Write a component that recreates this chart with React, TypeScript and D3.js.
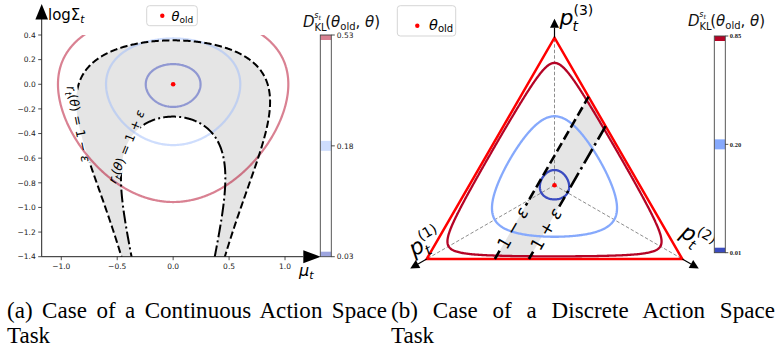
import React from 'react';
import * as d3 from 'd3';

// ---- data ----
const levelsA = [0.03, 0.18, 0.53];          // KL contour levels, panel (a)
const levelsB = [0.01, 0.2, 0.85];           // KL contour levels, panel (b)
const epsA = 0.3;                            // clip range, panel (a)
const epsB = 0.2;                            // clip range, panel (b)
const thetaOldA = [0, 0];                    // [mu, log sigma] of the old policy
const actionA = 0;                           // action at which r_t is evaluated
const thetaOldB = [1 / 3, 1 / 3, 1 / 3];     // old categorical policy
const ratioActionB = 1;                      // index of the action used for r_t (p^(2))
const muTicks = [-1.0, -0.5, 0.0, 0.5, 1.0];
const logSigmaTicks = [0.4, 0.2, 0.0, -0.2, -0.4, -0.6, -0.8, -1.0, -1.2, -1.4];
const colorsA = ['#3b4cc0', '#9ebbfc', '#b40426'];
const colorsB = ['#3b4cc0', '#86a9fc', '#b40426'];

const W = 777;
const H = 350;
const fmt = d3.format('.1f');
const fmt2 = d3.format('.2f');
const serif = "'Liberation Serif', 'Times New Roman', Times, serif";

// ---- panel (a) ----
const boxA = { left: 41.7, right: 304.6, top: 35, bottom: 256.7 };
const xA = d3.scaleLinear().domain([-1.175, 1.175]).range([boxA.left, boxA.right]);
const yA = d3.scaleLinear().domain([-1.4, 0.4]).range([boxA.bottom, boxA.top]);

const klGauss = (mu, s) => {
  const [mu0, s0] = thetaOldA;
  return (s0 - s) + (Math.exp(2 * s) + (mu - mu0) ** 2) / (2 * Math.exp(2 * s0)) - 0.5;
};
const logRatioA = (mu, s) => {
  const [mu0, s0] = thetaOldA;
  return (s0 - s) - (actionA - mu) ** 2 / (2 * Math.exp(2 * s)) + (actionA - mu0) ** 2 / (2 * Math.exp(2 * s0));
};

const nxA = 330;
const nyA = 300;
const gxA = d3.scaleLinear().domain([0.5, nxA - 0.5]).range([-1.4, 1.4]);
const gyA = d3.scaleLinear().domain([0.5, nyA - 0.5]).range([0.75, -1.75]);
const negKlA = new Float64Array(nxA * nyA);
const lrA = new Float64Array(nxA * nyA);
for (let j = 0; j < nyA; j++) {
  for (let i = 0; i < nxA; i++) {
    const mu = gxA(i + 0.5);
    const s = gyA(j + 0.5);
    negKlA[j * nxA + i] = -klGauss(mu, s);
    lrA[j * nxA + i] = logRatioA(mu, s);
  }
}
const pathA = d3.geoPath(d3.geoTransform({
  point: function (px, py) { this.stream.point(xA(gxA(px)), yA(gyA(py))); }
}));
const klContoursA = d3.contours().size([nxA, nyA]).thresholds(levelsA.map(l => -l))(negKlA);
const ratioContoursA = d3.contours().size([nxA, nyA])
  .thresholds([Math.log(1 - epsA), Math.log(1 + epsA)])(lrA);
const levelIndex = (levels, c) => d3.minIndex(levels, l => Math.abs(l + c.value));

// inline label anchors on the ratio curves (log sigma value, then mu solved on the left branch)
const labelAnchor = (s, c) => {
  const mu = -Math.sqrt(2 * Math.exp(2 * s) * (c - s));
  const d = 1e-3;
  const mu2 = -Math.sqrt(2 * Math.exp(2 * (s + d)) * (c - s - d));
  const ang = Math.atan2(yA(s + d) - yA(s), xA(mu2) - xA(mu)) * 180 / Math.PI;
  return { x: xA(mu), y: yA(s), ang };
};
const labA1 = labelAnchor(-0.322, -Math.log(1 - epsA));
labA1.ang += 180;
const labA2 = labelAnchor(-0.505, -Math.log(1 + epsA));

// ---- panel (b) ----
const sideB = 255.6;
const heightB = sideB * Math.sqrt(3) / 2;
const xB = d3.scaleLinear().domain([0, 1]).range([426.7, 426.7 + sideB]);
const yB = d3.scaleLinear().domain([0, 1]).range([259, 259 - heightB]);
const simplex = (p) => [xB(p[1] + p[2] / 2), yB(p[2])];
const vertsB = [[1, 0, 0], [0, 1, 0], [0, 0, 1]].map(simplex);
const centerB = simplex(thetaOldB);

const x0B = 416;
const x1B = 694;
const y0B = 26;
const y1B = 270;
const nxB = 300;
const nyB = 265;
const gxB = d3.scaleLinear().domain([0.5, nxB - 0.5]).range([x0B, x1B]);
const gyB = d3.scaleLinear().domain([0.5, nyB - 0.5]).range([y0B, y1B]);
const negKlB = new Float64Array(nxB * nyB);
for (let j = 0; j < nyB; j++) {
  for (let i = 0; i < nxB; i++) {
    const px = gxB(i + 0.5);
    const py = gyB(j + 0.5);
    const p3 = yB.invert(py);
    const p2 = xB.invert(px) - p3 / 2;
    const p = [1 - p2 - p3, p2, p3];
    let v = -20;
    if (p.every(q => q > 1e-9)) {
      v = -d3.sum(thetaOldB, (q, k) => q * Math.log(q / p[k]));
    }
    negKlB[j * nxB + i] = v;
  }
}
const pathB = d3.geoPath(d3.geoTransform({
  point: function (px, py) { this.stream.point(gxB(px), gyB(py)); }
}));
const klContoursB = d3.contours().size([nxB, nyB]).thresholds(levelsB.map(l => -l))(negKlB);

// r_t = p_k / p_old,k -> straight lines p_k = const
const ratioLine = (r) => {
  const pk = r * thetaOldB[ratioActionB];
  return [simplex([1 - pk, pk, 0]), simplex([0, pk, 1 - pk])];
};
const lineLo = ratioLine(1 - epsB);
const lineHi = ratioLine(1 + epsB);
const bandB = [lineLo[0], lineHi[0], lineHi[1], lineLo[1]];
const onLine = (r, p3) => {
  const pk = r * thetaOldB[ratioActionB];
  return simplex([1 - pk - p3, pk, p3]);
};
const labB1 = onLine(1 - epsB, 0.14);
const labB2 = onLine(1 + epsB, 0.135);

const arrowB = (v) => {
  const dx = v[0] - centerB[0];
  const dy = v[1] - centerB[1];
  const n = Math.hypot(dx, dy);
  const ux = dx / n;
  const uy = dy / n;
  const base = [v[0] + 10 * ux, v[1] + 10 * uy];
  const tip = [v[0] + 19 * ux, v[1] + 19 * uy];
  const l = [base[0] - 4.5 * uy, base[1] + 4.5 * ux];
  const r = [base[0] + 4.5 * uy, base[1] - 4.5 * ux];
  return { line: [v, base], head: [tip, l, r] };
};

const cbTitle = (x, y) => (
  <text x={x} y={y} fontSize={15} fill="#111">
    <tspan fontStyle="italic">D</tspan>
    <tspan fontSize={10} dy={4}>KL</tspan>
    <tspan fontSize={8} fontStyle="italic" dx={-12.5} dy={-13}>s</tspan>
    <tspan fontSize={6} fontStyle="italic" dy={2}>t</tspan>
    <tspan dx={4.5} dy={7}>(</tspan>
    <tspan fontStyle="italic">θ</tspan>
    <tspan fontSize={10} dy={3}>old</tspan>
    <tspan dy={-3}>, </tspan>
    <tspan fontStyle="italic">θ</tspan>
    <tspan>)</tspan>
  </text>
);

// p_t^(k) as one text element: sub and superscript stacked
const vertexLabel = (k, tr) => (
  <text transform={tr} x={0} y={0} fontSize={22} fill="#000">
    <tspan fontStyle="italic">p</tspan>
    <tspan fontStyle="italic" fontSize={14} dx={-1} dy={6}>t</tspan>
    <tspan fontSize={14} dx={-4.5} dy={-16}>({k})</tspan>
  </text>
);

export default function App() {
  const cbA = { x: 320.3, w: 11, top: 35, bottom: 256.7 };
  const cbB = { x: 714.3, w: 11, top: 36, bottom: 252.7 };
  const cbYA = d3.scaleLinear().domain([0, levelsA.length - 1]).range([cbA.bottom, cbA.top]);
  const cbYB = d3.scaleLinear().domain([0, levelsB.length - 1]).range([cbB.bottom, cbB.top]);
  const bandPathA = pathA(ratioContoursA[0]) + pathA(ratioContoursA[1]);

  return (
    <svg width={W} height={H} style={{ position: 'absolute', left: 0, top: 0, background: '#fff' }}
      fontFamily="DejaVu Sans">
      <defs>
        <clipPath id="clipA">
          <rect x={boxA.left} y={boxA.top} width={boxA.right - boxA.left} height={boxA.bottom - boxA.top} />
        </clipPath>
        <clipPath id="clipCbA"><rect x={cbA.x} y={cbA.top} width={cbA.w} height={cbA.bottom - cbA.top} /></clipPath>
        <clipPath id="clipCbB"><rect x={cbB.x} y={cbB.top} width={cbB.w} height={cbB.bottom - cbB.top} /></clipPath>
        <mask id="gapA" maskUnits="userSpaceOnUse" x={0} y={0} width={W} height={H}>
          <rect x={0} y={0} width={W} height={H} fill="#fff" />
          <rect x={-40} y={-6} width={80} height={12} fill="#000"
            transform={`translate(${labA1.x},${labA1.y}) rotate(${labA1.ang})`} />
          <rect x={-39} y={-6} width={78} height={12} fill="#000"
            transform={`translate(${labA2.x},${labA2.y}) rotate(${labA2.ang})`} />
        </mask>
        <mask id="gapB" maskUnits="userSpaceOnUse" x={0} y={0} width={W} height={H}>
          <rect x={0} y={0} width={W} height={H} fill="#fff" />
          <rect x={-26} y={-7} width={52} height={14} fill="#000"
            transform={`translate(${labB1[0]},${labB1[1]}) rotate(-60)`} />
          <rect x={-26} y={-7} width={52} height={14} fill="#000"
            transform={`translate(${labB2[0]},${labB2[1]}) rotate(-60)`} />
        </mask>
      </defs>

      {/* ===== panel (a) ===== */}
      <g clipPath="url(#clipA)">
        <path d={bandPathA} fill="#e5e5e5" fillRule="evenodd" stroke="none" />
        {klContoursA.map((c, i) => (
          <path key={`kla-${i}`} d={pathA(c)} fill="none" stroke={colorsA[levelIndex(levelsA, c)]}
            strokeOpacity={0.5} strokeWidth={2.2} />
        ))}
        <g mask="url(#gapA)" fill="none" stroke="#000" strokeWidth={2}>
          <path d={pathA(ratioContoursA[0])} strokeDasharray="7.4,3.2" />
          <path d={pathA(ratioContoursA[1])} strokeDasharray="12.8,3.2,2,3.2" />
        </g>
      </g>
      <text transform={`translate(${labA1.x},${labA1.y}) rotate(${labA1.ang})`} textAnchor="middle" y={4.5}
        fontSize={12.5} fill="#000">
        <tspan fontStyle="italic">r</tspan>
        <tspan fontStyle="italic" fontSize={9} dy={3}>t</tspan>
        <tspan dy={-3}>(</tspan><tspan fontStyle="italic">θ</tspan><tspan>) = 1 − </tspan>
        <tspan fontStyle="italic">ε</tspan>
      </text>
      <text transform={`translate(${labA2.x},${labA2.y}) rotate(${labA2.ang})`} textAnchor="middle" y={4.5}
        fontSize={12.5} fill="#000">
        <tspan fontStyle="italic">r</tspan>
        <tspan fontStyle="italic" fontSize={9} dy={3}>t</tspan>
        <tspan dy={-3}>(</tspan><tspan fontStyle="italic">θ</tspan><tspan>) = 1 + </tspan>
        <tspan fontStyle="italic">ε</tspan>
      </text>
      <circle cx={xA(thetaOldA[0])} cy={yA(thetaOldA[1])} r={2.3} fill="#ff0000" />

      {/* axes (a) */}
      <g stroke="#222" strokeWidth={1}>
        <line x1={boxA.left} y1={boxA.bottom} x2={boxA.left} y2={19} />
        <line x1={boxA.left} y1={boxA.bottom} x2={303.3} y2={boxA.bottom} />
      </g>
      <path d={`M${boxA.left},4L${boxA.left - 6.3},19.5L${boxA.left + 6.3},19.5Z`} fill="#000" />
      <path d={`M320.7,${boxA.bottom}L303.3,${boxA.bottom - 6.5}L303.3,${boxA.bottom + 6.5}Z`} fill="#000" />
      {logSigmaTicks.map(t => (
        <g key={`ys-${t}`}>
          <line x1={boxA.left - 3.5} x2={boxA.left} y1={yA(t)} y2={yA(t)} stroke="#222" strokeWidth={0.8} />
          <text x={boxA.left - 6} y={yA(t) + 2.7} textAnchor="end" fontSize={7.5} fill="#222">{fmt(t)}</text>
        </g>
      ))}
      {muTicks.map(t => (
        <g key={`xm-${t}`}>
          <line x1={xA(t)} x2={xA(t)} y1={boxA.bottom} y2={boxA.bottom + 3.5} stroke="#222" strokeWidth={0.8} />
          <text x={xA(t)} y={boxA.bottom + 12.5} textAnchor="middle" fontSize={7.5} fill="#222">{fmt(t)}</text>
        </g>
      ))}
      <text x={48} y={20} fontSize={15} fill="#000">
        logΣ<tspan fontStyle="italic" fontSize={10.5} dy={3}>t</tspan>
      </text>
      <text x={299} y={276} fontSize={16} fill="#000">
        <tspan fontStyle="italic">μ</tspan><tspan fontStyle="italic" fontSize={11} dy={3}>t</tspan>
      </text>

      {/* legend (a) */}
      <rect x={146.7} y={5.7} width={50.6} height={20} rx={3} fill="#fff" stroke="#d5d5d5" strokeWidth={1} />
      <circle cx={162.3} cy={15.7} r={2.2} fill="#ff0000" />
      <text x={171.5} y={20.5} fontSize={13} fill="#000">
        <tspan fontStyle="italic">θ</tspan><tspan fontSize={9} dy={2}>old</tspan>
      </text>

      {/* colorbar (a) */}
      {cbTitle(303, 26.5)}
      <rect x={cbA.x} y={cbA.top} width={cbA.w} height={cbA.bottom - cbA.top} fill="#fff" />
      <g clipPath="url(#clipCbA)">
        {levelsA.map((l, i) => (
          <rect key={`cba-${l}`} x={cbA.x} y={cbYA(i) - 5} width={cbA.w} height={10} fill={colorsA[i]}
            fillOpacity={0.5} />
        ))}
      </g>
      <rect x={cbA.x} y={cbA.top} width={cbA.w} height={cbA.bottom - cbA.top} fill="none" stroke="#444"
        strokeWidth={0.9} />
      {levelsA.map((l, i) => (
        <g key={`cbta-${l}`}>
          <line x1={cbA.x + cbA.w} x2={cbA.x + cbA.w + 3.5} y1={cbYA(i)} y2={cbYA(i)} stroke="#222" strokeWidth={0.8} />
          <text x={cbA.x + cbA.w + 5.5} y={cbYA(i) + 2.7} fontSize={7.5} fill="#222">{fmt2(l)}</text>
        </g>
      ))}

      {/* ===== panel (b) ===== */}
      <path d={d3.line()(bandB) + 'Z'} fill="#e5e5e5" stroke="none" />
      <g stroke="#808080" strokeWidth={0.9} strokeDasharray="3.5,2">
        {vertsB.map((v, i) => (
          <line key={`ax-${i}`} x1={centerB[0]} y1={centerB[1]} x2={v[0]} y2={v[1]} />
        ))}
      </g>
      <path d={d3.line()(vertsB) + 'Z'} fill="none" stroke="#ff0000" strokeWidth={2.5} strokeLinejoin="miter" />
      {klContoursB.map((c, i) => (
        <path key={`klb-${i}`} d={pathB(c)} fill="none" stroke={colorsB[levelIndex(levelsB, c)]} strokeWidth={2.3} />
      ))}
      <g mask="url(#gapB)" fill="none" stroke="#000" strokeWidth={2.6}>
        <path d={d3.line()(lineLo)} strokeDasharray="9.6,4.2" />
        <path d={d3.line()(lineHi)} strokeDasharray="16.6,4.2,2.6,4.2" />
      </g>
      <text transform={`translate(${labB1[0]},${labB1[1]}) rotate(-60)`} textAnchor="middle" y={6}
        fontSize={17} fill="#000">1 − <tspan fontStyle="italic">ε</tspan></text>
      <text transform={`translate(${labB2[0]},${labB2[1]}) rotate(-60)`} textAnchor="middle" y={6}
        fontSize={17} fill="#000">1 + <tspan fontStyle="italic">ε</tspan></text>
      <circle cx={centerB[0]} cy={centerB[1]} r={2.3} fill="#ff0000" />
      {vertsB.map((v, i) => {
        const a = arrowB(v);
        return (
          <g key={`arr-${i}`}>
            <line x1={a.line[0][0]} y1={a.line[0][1]} x2={a.line[1][0]} y2={a.line[1][1]} stroke="#000"
              strokeWidth={1.2} />
            <path d={d3.line()(a.head) + 'Z'} fill="#000" />
          </g>
        );
      })}
      {vertexLabel(3, 'translate(559.5,25)')}
      {vertexLabel(1, 'translate(414,257) rotate(-30)')}
      {vertexLabel(2, 'translate(679,236) rotate(30)')}

      {/* legend (b) */}
      <rect x={397.3} y={5.7} width={58.4} height={30.3} rx={3} fill="#fff" stroke="#d5d5d5" strokeWidth={1} />
      <circle cx={417.3} cy={25.7} r={2.2} fill="#ff0000" />
      <text x={429} y={29.5} fontSize={14.5} fill="#000">
        <tspan fontStyle="italic">θ</tspan><tspan fontSize={10} dy={2}>old</tspan>
      </text>

      {/* colorbar (b) */}
      {cbTitle(688, 25.5)}
      <rect x={cbB.x} y={cbB.top} width={cbB.w} height={cbB.bottom - cbB.top} fill="#fff" />
      <g clipPath="url(#clipCbB)">
        {levelsB.map((l, i) => (
          <rect key={`cbb-${l}`} x={cbB.x} y={cbYB(i) - 5} width={cbB.w} height={10} fill={colorsB[i]} />
        ))}
      </g>
      <rect x={cbB.x} y={cbB.top} width={cbB.w} height={cbB.bottom - cbB.top} fill="none" stroke="#444"
        strokeWidth={0.9} />
      {levelsB.map((l, i) => (
        <g key={`cbtb-${l}`}>
          <line x1={cbB.x + cbB.w} x2={cbB.x + cbB.w + 3} y1={cbYB(i)} y2={cbYB(i)} stroke="#222" strokeWidth={0.8} />
          <text x={cbB.x + cbB.w + 4.5} y={cbYB(i) + 2.3} fontSize={6.5} fontWeight="bold"
            style={{ fontFamily: serif }} fill="#222">{fmt2(l)}</text>
        </g>
      ))}

      {/* captions */}
      <g style={{ fontFamily: serif }} fontSize={23} fill="#000">
        <text x={7} y={318} wordSpacing={3.5} textLength={380} lengthAdjust="spacing">
          (a) Case of a Continuous Action Space
        </text>
        <text x={7} y={343}>Task</text>
        <text x={391} y={318} wordSpacing={9} textLength={384} lengthAdjust="spacing">
          (b) Case of a Discrete Action Space
        </text>
        <text x={391} y={343}>Task</text>
      </g>
    </svg>
  );
}
